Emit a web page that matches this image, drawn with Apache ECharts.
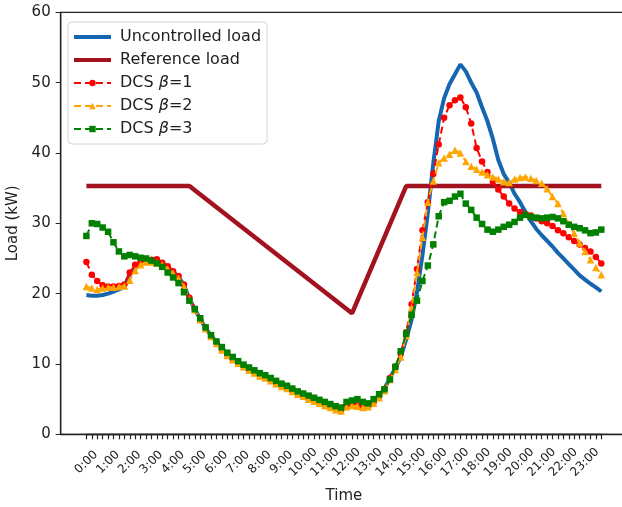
<!DOCTYPE html>
<html>
<head>
<meta charset="utf-8">
<script src="https://cdn.jsdelivr.net/npm/echarts@6.0.0/dist/echarts.min.js"></script>
<style>
html,body{margin:0;padding:0;background:#fff;}
#main{width:622px;height:507px;}
</style>
</head>
<body>
<div id="main"></div>
<script>
// hourly tick labels, data is every 15 min (4 slots per hour)
var hours = ['0:00','1:00','2:00','3:00','4:00','5:00','6:00','7:00','8:00','9:00','10:00','11:00',
  '12:00','13:00','14:00','15:00','16:00','17:00','18:00','19:00','20:00','21:00','22:00','23:00'];

var uncontrolled = [
  19.8,19.7,19.7,19.8,20.0,20.3,20.6,21.0,22.8,23.6,
  24.1,24.5,24.8,24.7,24.3,23.8,23.1,22.4,21.2,19.3,
  17.8,16.4,15.1,14.0,13.1,12.2,11.4,10.8,10.3,9.8,
  9.3,8.9,8.5,8.2,7.8,7.4,7.0,6.7,6.3,5.9,
  5.6,5.2,4.9,4.5,4.3,4.0,3.8,3.6,4.2,4.4,
  4.3,4.1,4.2,4.8,5.5,6.5,8.0,9.4,11.0,13.5,
  16.3,20.2,25.5,31.5,38.5,44.5,47.8,49.8,51.2,52.6,
  51.6,50.0,48.6,46.5,44.5,42.0,39.0,37.0,35.8,34.2,
  33.0,31.6,30.3,29.2,28.3,27.5,26.7,25.8,25.0,24.2,
  23.4,22.6,22.0,21.4,20.9,20.3
];

// corners of the reference profile [slot, kW]
var reference = [[0,35.3],[19,35.3],[49,17.2],[59,35.3],[95,35.3]];

var dcs1 = [
  24.5,22.7,21.8,21.2,21.0,21.0,21.1,21.3,23.0,24.1,
  24.5,24.6,24.8,24.9,24.4,23.9,23.2,22.5,21.3,19.4,
  17.8,16.3,15.0,13.9,13.0,12.1,11.3,10.7,10.2,9.7,
  9.2,8.8,8.4,8.1,7.7,7.3,6.9,6.6,6.2,5.8,
  5.5,5.1,4.8,4.5,4.2,3.9,3.7,3.5,4.1,4.3,
  4.1,3.9,4.0,4.6,5.4,6.4,8.0,9.6,11.5,14.5,
  18.5,23.5,29.0,33.0,37.0,41.2,45.0,46.8,47.5,47.9,
  46.5,44.2,40.7,38.8,37.3,35.9,34.8,33.8,32.8,32.1,
  31.6,31.3,31.1,30.7,30.3,30.0,29.6,29.0,28.6,28.0,
  27.5,27.0,26.5,26.0,25.2,24.3
];

var dcs2 = [
  21.0,20.8,20.6,20.8,20.9,20.9,21.0,21.1,21.9,23.3,
  24.1,24.5,24.5,24.4,24.1,23.5,22.9,22.2,21.0,19.2,
  17.7,16.3,15.0,13.9,12.9,12.0,11.2,10.6,10.1,9.6,
  9.1,8.7,8.3,8.0,7.6,7.2,6.8,6.5,6.1,5.7,
  5.4,5.0,4.7,4.4,4.1,3.8,3.5,3.3,3.9,4.1,
  4.0,3.8,3.9,4.4,5.2,6.2,7.8,9.2,11.0,14.0,
  18.0,23.0,28.0,33.0,36.0,38.6,39.3,39.8,40.4,40.0,
  38.8,38.1,37.7,37.3,36.9,36.6,36.3,35.9,35.8,36.3,
  36.5,36.6,36.4,36.1,35.7,34.9,33.8,32.8,31.4,29.9,
  28.6,27.2,26.0,24.8,23.7,22.7
];

var dcs3 = [
  28.2,30.0,29.9,29.4,28.8,27.3,26.0,25.3,25.5,25.3,
  25.1,25.0,24.7,24.3,23.8,23.0,22.3,21.5,20.2,19.0,
  17.8,16.5,15.2,14.1,13.2,12.4,11.6,11.0,10.4,9.9,
  9.5,9.1,8.7,8.4,8.0,7.6,7.2,6.9,6.5,6.1,
  5.8,5.5,5.2,4.9,4.6,4.3,4.0,3.8,4.6,4.8,
  5.0,4.6,4.4,5.0,5.7,6.4,7.8,9.6,11.8,14.3,
  17.0,19.0,21.8,24.0,27.0,31.0,33.0,33.2,33.8,34.2,
  32.8,31.9,30.8,29.9,29.1,28.8,29.1,29.5,29.8,30.2,
  30.8,31.2,30.9,30.8,30.7,30.8,30.9,30.7,30.3,29.8,
  29.5,29.3,29.0,28.6,28.7,29.1
];

var slotsPerHour = uncontrolled.length / hours.length;
// one category per 15-min slot, only full hours get a label
var slots = uncontrolled.map(function(v, i){
  return i % slotsPerHour === 0 ? hours[i / slotsPerHour] : '';
});

var chart = echarts.init(document.getElementById('main'));
var font = 'DejaVu Sans';
var ink = '#222';

chart.setOption({
  animation: false,
  grid: [
    // frame with matplotlib-like margins (right edge falls outside the picture)
    { left: 60.7, top: 12.3, height: 422, width: 566.4, outerBoundsMode: 'none',
      show: true, borderColor: ink, borderWidth: 1.3, backgroundColor: 'transparent' },
    // data area: first slot to last slot
    { left: 86.4, top: 12.3, height: 422, width: 514.9, outerBoundsMode: 'none' }
  ],
  legend: {
    orient: 'vertical', left: 68, top: 22,
    padding: [7, 6, 7, 4],
    itemWidth: 37, itemHeight: 8, itemGap: 7,
    borderColor: '#d4d4d4', borderWidth: 1, borderRadius: 4,
    backgroundColor: '#fff',
    data: [
      { name: 'Uncontrolled load', lineStyle: { width: 4 } },
      { name: 'Reference load', lineStyle: { width: 4 } },
      { name: 'DCS β=1' },
      { name: 'DCS β=2' },
      { name: 'DCS β=3' }
    ],
    formatter: function(name){ return name.replace('β', '{b|β}'); },
    textStyle: {
      fontFamily: font, fontSize: 16, color: ink, padding: [0, 0, 0, 4],
      rich: { b: { fontFamily: font, fontSize: 16, fontStyle: 'italic', color: ink } }
    }
  },
  xAxis: [
    {
      gridIndex: 0, type: 'value', min: -4.75, max: 99.75,
      name: 'Time', nameLocation: 'middle', nameGap: 54,
      nameTextStyle: { fontFamily: font, fontSize: 15, color: ink },
      axisLine: { lineStyle: { color: ink, width: 1.3 } },
      axisTick: { show: false },
      axisLabel: { show: false },
      splitLine: { show: false }
    },
    {
      gridIndex: 1, type: 'category', data: slots, boundaryGap: false,
      axisLine: { show: true, lineStyle: { color: ink, width: 1.3 } },
      axisTick: { show: true, interval: 0, length: 5, lineStyle: { color: ink, width: 1.2 } },
      axisLabel: {
        interval: 0, rotate: 45, align: 'center', verticalAlign: 'middle', margin: 28,
        fontFamily: font, fontSize: 12, color: ink
      },
      splitLine: { show: false }
    }
  ],
  yAxis: [
    {
      gridIndex: 0, type: 'value', min: 0, max: 60, interval: 10,
      name: 'Load (kW)', nameLocation: 'middle', nameGap: 38,
      nameTextStyle: { fontFamily: font, fontSize: 15, color: ink },
      axisLine: { show: true, onZero: false, lineStyle: { color: ink, width: 1.3 } },
      axisTick: { show: true, length: 5, lineStyle: { color: ink } },
      axisLabel: { fontFamily: font, fontSize: 15, color: ink, margin: 10 },
      splitLine: { show: false }
    },
    { gridIndex: 1, type: 'value', min: 0, max: 60, show: false }
  ],
  series: [
    {
      name: 'Uncontrolled load', type: 'line', xAxisIndex: 1, yAxisIndex: 1,
      data: uncontrolled, symbol: 'none', color: '#1565b0',
      itemStyle: { opacity: 0 },
      lineStyle: { width: 4, color: '#1565b0' }, z: 2
    },
    {
      name: 'Reference load', type: 'line', xAxisIndex: 1, yAxisIndex: 1,
      data: reference, symbol: 'none', color: '#a3121f',
      itemStyle: { opacity: 0 },
      lineStyle: { width: 4.5, color: '#a3121f' }, z: 3
    },
    {
      name: 'DCS β=1', type: 'line', xAxisIndex: 1, yAxisIndex: 1,
      data: dcs1, symbol: 'circle', symbolSize: 6.5, showAllSymbol: true, color: '#ff0000',
      lineStyle: { width: 2, type: [7, 4], color: '#ff0000' }, z: 4
    },
    {
      name: 'DCS β=2', type: 'line', xAxisIndex: 1, yAxisIndex: 1,
      data: dcs2, symbol: 'triangle', symbolSize: 7.5, showAllSymbol: true, color: '#ffa500',
      lineStyle: { width: 2, type: [7, 4], color: '#ffa500' }, z: 5
    },
    {
      name: 'DCS β=3', type: 'line', xAxisIndex: 1, yAxisIndex: 1,
      data: dcs3, symbol: 'rect', symbolSize: 6.5, showAllSymbol: true, color: '#008000',
      lineStyle: { width: 2, type: [7, 4], color: '#008000' }, z: 6
    }
  ]
});
</script>
</body>
</html>
